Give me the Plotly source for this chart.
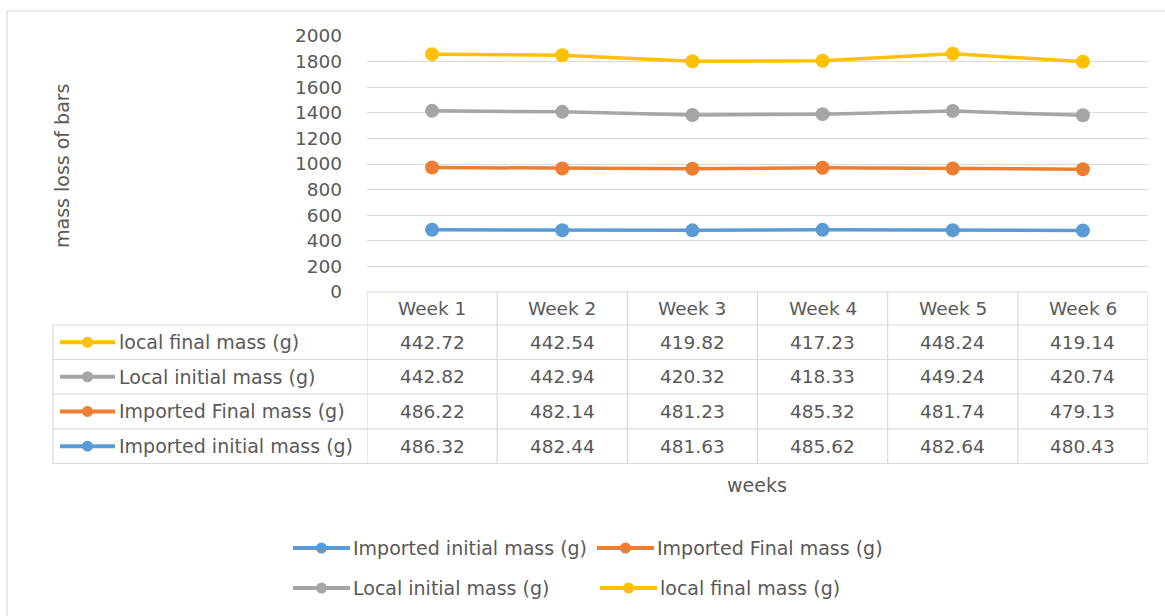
import plotly.graph_objects as go

# Weekly mass readings (g) for imported and local bars
weeks = ["Week 1", "Week 2", "Week 3", "Week 4", "Week 5", "Week 6"]
imported_initial = [486.32, 482.44, 481.63, 485.62, 482.64, 480.43]
imported_final = [486.22, 482.14, 481.23, 485.32, 481.74, 479.13]
local_initial = [442.82, 442.94, 420.32, 418.33, 449.24, 420.74]
local_final = [442.72, 442.54, 419.82, 417.23, 448.24, 419.14]

series_names = [
    "Imported initial mass (g)",
    "Imported Final mass (g)",
    "Local initial mass (g)",
    "local final mass (g)",
]
series_values = [imported_initial, imported_final, local_initial, local_final]
series_colors = ["#5B9BD5", "#ED7D31", "#A5A5A5", "#FFC000"]

W, H = 1165, 616
L, R, T, B = 367, 1148, 36, 292          # plot area in pixels
FONT = "DejaVu Sans"
FS = 18.5
FS_NAME = 19
TXT = "#595959"
GRID = "#D9D9D9"


def px_x(x):
    return (x - L) / (R - L)


def px_y(y):
    return (B - y) / (B - T)


def label(x, y, text, xref="paper", xanchor="center", size=FS, **kw):
    return dict(x=x, y=y, xref=xref, yref="paper", text=text, showarrow=False,
                xanchor=xanchor, yanchor="middle",
                font=dict(family=FONT, size=size, color=TXT), **kw)


fig = go.Figure()

# stacked lines
for name, vals, col in zip(series_names, series_values, series_colors):
    fig.add_trace(go.Scatter(
        x=weeks, y=vals, name=name, mode="lines+markers",
        stackgroup="mass", fill="none",
        line=dict(color=col, width=3.5),
        marker=dict(color=col, size=14),
        showlegend=False,
    ))

shapes = []
annotations = []

# outer chart border
shapes.append(dict(type="rect", xref="paper", yref="paper",
                   x0=px_x(7), x1=px_x(1180), y0=px_y(630), y1=px_y(11),
                   line=dict(color=GRID, width=1.2), layer="below"))

# data table grid
header_top, header_bot = 292, 325
row_edges = [325, 359.5, 394, 428.8, 463.5]
label_left = 53
n = len(weeks)
line = dict(color=GRID, width=1.2)
shapes.append(dict(type="line", xref="x", yref="paper", x0=-0.5, x1=n - 0.5,
                   y0=px_y(header_top), y1=px_y(header_top), line=line))
for ye in row_edges:
    shapes.append(dict(type="line", xref="paper", yref="paper",
                       x0=px_x(label_left), x1=1, y0=px_y(ye), y1=px_y(ye), line=line))
for i in range(n + 1):
    shapes.append(dict(type="line", xref="x", yref="paper", x0=i - 0.5, x1=i - 0.5,
                       y0=px_y(header_top), y1=px_y(row_edges[-1]), line=line))
shapes.append(dict(type="line", xref="paper", yref="paper",
                   x0=px_x(label_left), x1=px_x(label_left),
                   y0=px_y(row_edges[0]), y1=px_y(row_edges[-1]), line=line))

# header labels
for i, wk in enumerate(weeks):
    annotations.append(label(i, px_y((header_top + header_bot) / 2), wk, xref="x"))

# table rows: series in reverse order, top to bottom
table_order = list(range(len(series_names)))[::-1]
for r, si in enumerate(table_order):
    yc = (row_edges[r] + row_edges[r + 1]) / 2
    col = series_colors[si]
    shapes.append(dict(type="line", xref="paper", yref="paper",
                       x0=px_x(60), x1=px_x(115), y0=px_y(yc), y1=px_y(yc),
                       line=dict(color=col, width=4)))
    shapes.append(dict(type="circle", xref="paper", yref="paper",
                       x0=px_x(82), x1=px_x(93), y0=px_y(yc + 5.5), y1=px_y(yc - 5.5),
                       fillcolor=col, line=dict(color=col, width=0)))
    annotations.append(label(px_x(117), px_y(yc), series_names[si], xanchor="left", size=FS_NAME))
    for i, v in enumerate(series_values[si]):
        annotations.append(label(i, px_y(yc), f"{v:.2f}", xref="x"))

# axis titles
annotations.append(label(px_x(62), px_y(166), "mass loss of bars", textangle=-90, size=FS_NAME))
annotations.append(label(px_x(757), px_y(485), "weeks", size=FS_NAME))

# legend below the chart
legend_pos = [(293, 548), (597, 548), (293, 588), (600, 588)]
for (lx, ly), name, col in zip(legend_pos, series_names, series_colors):
    shapes.append(dict(type="line", xref="paper", yref="paper",
                       x0=px_x(lx), x1=px_x(lx + 57), y0=px_y(ly), y1=px_y(ly),
                       line=dict(color=col, width=4)))
    shapes.append(dict(type="circle", xref="paper", yref="paper",
                       x0=px_x(lx + 23), x1=px_x(lx + 34), y0=px_y(ly + 5.5), y1=px_y(ly - 5.5),
                       fillcolor=col, line=dict(color=col, width=0)))
    annotations.append(label(px_x(lx + 58), px_y(ly), name, xanchor="left", size=FS_NAME))

fig.update_layout(
    width=W, height=H,
    margin=dict(l=L, r=W - R, t=T, b=H - B),
    paper_bgcolor="white", plot_bgcolor="white",
    shapes=shapes, annotations=annotations,
    xaxis=dict(type="category", range=[-0.5, n - 0.5], showticklabels=False,
               showgrid=False, zeroline=False, showline=False),
    yaxis=dict(range=[0, 2000], dtick=200, showgrid=True, gridcolor=GRID, gridwidth=1.2,
               zeroline=False, showline=False, ticklabelstandoff=24,
               tickfont=dict(family=FONT, size=FS, color=TXT)),
    showlegend=False,
)

fig.write_html("out.html")
